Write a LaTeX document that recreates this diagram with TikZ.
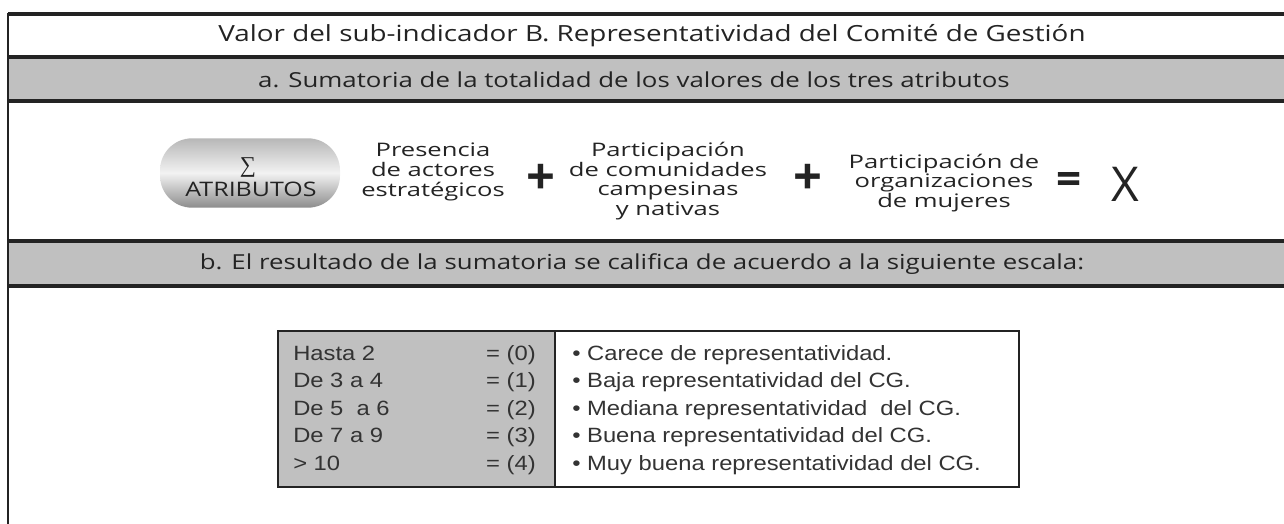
\documentclass[tikz,border=0pt]{standalone}
\usepackage{fontspec}
\setmainfont[FakeStretch=1.15]{Liberation Sans}
\newfontfamily\erasfont[FakeStretch=1.25]{Open Sans}
\newfontfamily\termfont[FakeStretch=1.37]{Open Sans}
\newfontfamily\plainsans{Open Sans}
\newfontfamily\sigmafont{Liberation Serif}
\usetikzlibrary{positioning}
\definecolor{bargray}{RGB}{192,192,192}
\definecolor{inkgray}{RGB}{35,35,35}

\begin{document}
\begin{tikzpicture}[x=0.75pt, y=-0.75pt,
  rule/.style={draw=inkgray, line width=2.4pt},
  frame/.style={draw=inkgray, line width=1.6pt},
  head/.style={font=\erasfont\fontsize{16.7}{20}\selectfont, text=inkgray},
  subhead/.style={font=\erasfont\fontsize{15.5}{18}\selectfont, text=inkgray},
  term/.style={font=\termfont\fontsize{14}{14.8}\selectfont, align=center, text=inkgray, inner sep=0pt},
  op/.style={font=\plainsans\bfseries\fontsize{38}{38}\selectfont, text=inkgray, inner sep=0pt},
  pill/.style={rounded corners=24pt, minimum width=135pt, minimum height=52pt, top color=black!28, bottom color=black!45, middle color=black!5, inner sep=0pt},
  lvl/.style={font=\fontsize{15.5}{15.5}\selectfont, text=black!80, anchor=base west, inner sep=0pt},
  pts/.style={lvl, anchor=base east}
]
  \useasboundingbox (0,0) rectangle (1284,524);

  % header rows
  \fill[bargray] (8,57) rectangle (1290,101);
  \fill[bargray] (8,241) rectangle (1290,286);
  \draw[rule] (8,14) -- (1290,14);
  \draw[rule] (8,57) -- (1290,57);
  \draw[rule] (8,101) -- (1290,101);
  \draw[rule] (8,241) -- (1290,241);
  \draw[rule] (8,286) -- (1290,286);
  \draw[rule, line width=2pt] (8,13) -- (8,530);

  \node[head] (title) at (652,36) {Valor del sub-indicador B. Representatividad del Comit\'e de Gesti\'on};
  \node[subhead] (suma) at (634,80) {a. Sumatoria de la totalidad de los valores de los tres atributos};
  \node[subhead] (escala) at (642,264) {b. El resultado de la sumatoria se califica de acuerdo a la siguiente escala:};

  % sum of the three attributes
  \node[pill] (sumbox) at (250,173) {};
  \node[inner sep=0pt, text=inkgray, font=\sigmafont\fontsize{17}{17}\selectfont] (sigma) at (248,167) {∑};
  \node[inner sep=0pt, text=inkgray, font=\erasfont\fontsize{15}{15}\selectfont] (atrib) at (251,189) {ATRIBUTOS};
  \node[term] (presencia) at (433,172) {Presencia\\de actores\\estrat\'egicos};
  \node[op] (plus1) at (541,179) {+};
  \node[term] (comunidades) at (668,181) {Participaci\'on\\de comunidades\\campesinas\\y nativas};
  \node[op] (plus2) at (808,179) {+};
  \node[term] (mujeres) at (944,183) {Participaci\'on de\\organizaciones\\de mujeres};
  \node[op, font=\plainsans\bfseries\fontsize{33}{33}\selectfont] (equal) at (1069,184) {=};
  \node[font=\plainsans\fontsize{36}{36}\selectfont, text=inkgray, inner sep=0pt] (total) at (1125,184) {X};

  % rating scale
  \draw[frame, fill=bargray] (278,331) rectangle (555,487);
  \draw[frame] (555,331) rectangle (1019,487);
  \foreach \lo/\pt/\desc [count=\i from 0] in {
      Hasta 2/0/Carece de representatividad.,
      De 3 a 4/1/Baja representatividad del CG.,
      De 5~ a 6/2/Mediana representatividad~ del CG.,
      De 7 a 9/3/Buena representatividad del CG.,
      > 10/4/Muy buena representatividad del CG.}{
    \node[lvl] (lo\i) at (293,360+27.5*\i) {\lo};
    \node[pts] (pt\i) at (536,360+27.5*\i) {= (\pt)};
    \node[lvl] (ds\i) at (572,360+27.5*\i) {\textbullet\ \desc};
  }
\end{tikzpicture}
\end{document}
